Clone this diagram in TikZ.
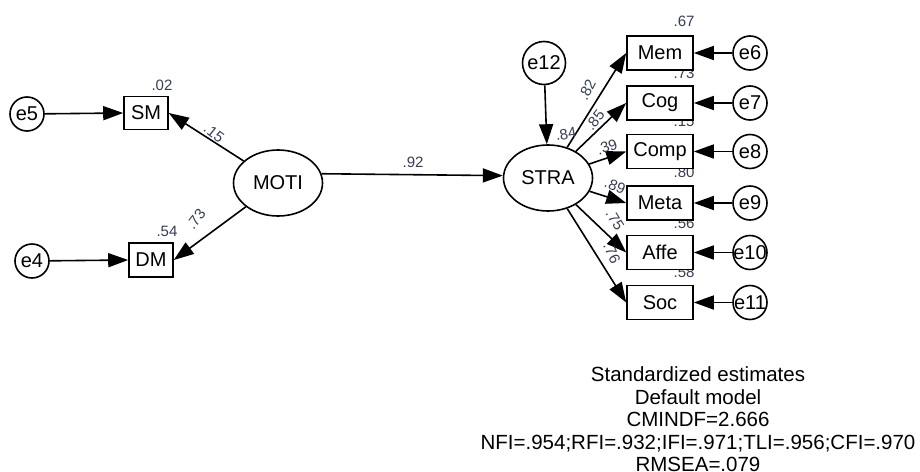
\documentclass[tikz,border=0pt]{standalone}
\usepackage{fontspec}
\setmainfont{Liberation Sans}
\usetikzlibrary{arrows.meta,shapes.geometric}
\definecolor{coefc}{RGB}{55,62,82}
\begin{document}
\begin{tikzpicture}[x=1pt,y=1pt,
  big/.style={font=\fontsize{20}{24}\selectfont},
  obs/.style={big, draw, line width=1.6pt, fill=white, inner sep=0pt,
    minimum width=66pt, minimum height=34pt},
  obssm/.style={obs, minimum width=44pt, minimum height=33pt},
  latent/.style={big, draw, ellipse, line width=1.6pt, fill=white, inner sep=0pt,
    minimum width=89pt, minimum height=66pt},
  err/.style={big, draw, circle, line width=1.6pt, fill=white, inner sep=0pt,
    minimum size=34pt},
  coef/.style={font=\fontsize{15}{18}\selectfont, text=coefc, inner sep=0pt},
  arr/.style={line width=1.6pt, -{Triangle[length=20pt,width=14pt]}},
]
\useasboundingbox (0,0) rectangle (920,-471);

% squared multiple correlations of the strategy indicators (drawn first,
% so the boxes sit on top of them)
\node[coef] (r2mem)  at (684,-21)  {.67};
\node[coef] (r2cog)  at (684,-73)  {.73};
\node[coef] (r2comp) at (684,-121) {.15};
\node[coef] (r2meta) at (684,-172) {.80};
\node[coef] (r2affe) at (684,-223) {.56};
\node[coef] (r2soc)  at (684,-272) {.58};

% motivation side
\node[latent] (MOTI) at (278,-183) {MOTI};
\node[obssm] (SM) at (146,-113) {SM};
\node[obssm, minimum height=34pt] (DM) at (151,-260) {DM};
\node[err] (e5) at (27,-114) {e5};
\node[err] (e4) at (32,-261) {e4};

% strategy side
\node[latent] (STRA) at (548,-178) {STRA};
\node[err, minimum size=43pt] (e12) at (544,-63) {e12};
\node[obs] (Mem)  at (660,-53)    {Mem};
\node[obs] (Cog)  at (660,-103)   {Cog};
\node[obs] (Comp) at (660,-151.5) {Comp};
\node[obs] (Meta) at (660,-203)   {Meta};
\node[obs] (Affe) at (660,-252.5) {Affe};
\node[obs] (Soc)  at (660,-302.5) {Soc};
\node[err] (e6)  at (750,-53)    {\makebox[0pt]{e6}};
\node[err] (e7)  at (750,-103)   {\makebox[0pt]{e7}};
\node[err] (e8)  at (750,-151.5) {\makebox[0pt]{e8}};
\node[err] (e9)  at (750,-203)   {\makebox[0pt]{e9}};
\node[err] (e10) at (750,-252.5) {\makebox[0pt]{e10}};
\node[err] (e11) at (750,-302.5) {\makebox[0pt]{e11}};

% paths
\draw[arr] (e5) -- (SM.west);
\draw[arr] (e4) -- (DM.west);
\draw[arr] (MOTI) -- (SM.east);
\draw[arr] (MOTI) -- (DM.east);
\draw[arr] (MOTI.12) -- (STRA.177);
\draw[arr] (e12) -- (STRA);
\draw[arr] (STRA) -- (Mem.west);
\draw[arr] (STRA) -- (Cog.west);
\draw[arr] (STRA) -- (Comp.west);
\draw[arr] (STRA) -- (Meta.west);
\draw[arr] (STRA) -- (Affe.west);
\draw[arr] (STRA) -- (Soc.west);
\draw[arr] (e6)  -- (Mem.east);
\draw[arr] (e7)  -- (Cog.east);
\draw[arr] (e8)  -- (Comp.east);
\draw[arr] (e9)  -- (Meta.east);
\draw[arr] (e10) -- (Affe.east);
\draw[arr] (e11) -- (Soc.east);

% estimates
\node[coef] (r2sm)  at (162,-85)  {.02};
\node[coef] (r2dm)  at (167,-231) {.54};
\node[coef, rotate=-38] (bsm) at (214,-133) {.15};
\node[coef, rotate=52]  (bdm) at (196,-219) {.73};
\node[coef] (bstra) at (413,-162) {.92};
\node[coef, rotate=10]  (r2stra) at (566,-134) {.84};
\node[coef, rotate=63]  (bmem)  at (587,-90)  {.82};
\node[coef, rotate=52]  (bcog)  at (595,-120) {.85};
\node[coef, rotate=20]  (bcomp) at (607,-147) {.39};
\node[coef, rotate=-22] (bmeta) at (615,-186) {.89};
\node[coef, rotate=-58] (baffe) at (615,-220) {.75};
\node[coef, rotate=-65] (bsoc)  at (612,-253) {.76};

% fit summary
\node[font=\fontsize{20.5}{22.5}\selectfont, align=center, inner sep=0pt]
  (fit) at (698,-419.5)
  {Standardized estimates\\Default model\\CMINDF=2.666\\
   NFI=.954;RFI=.932;IFI=.971;TLI=.956;CFI=.970\\RMSEA=.079};
\end{tikzpicture}
\end{document}
